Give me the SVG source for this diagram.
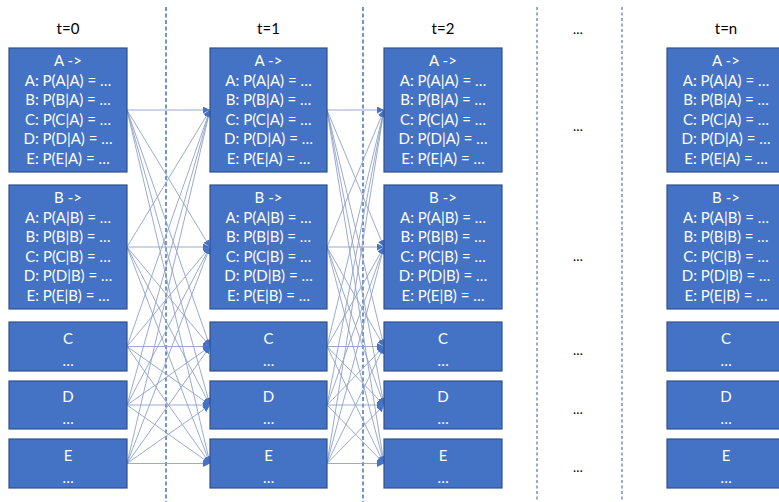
<svg xmlns="http://www.w3.org/2000/svg" width="779" height="502" viewBox="0 0 779 502">
  <defs>
    <style>
      .box { fill: #4472C4; stroke: #2F528F; stroke-width: 1.2; }
      .lbl { font-family: Lato, "Open Sans", sans-serif; font-size: 15px; fill: #FFFFFF; text-anchor: middle; }
      .hdr { font-family: Lato, "Open Sans", sans-serif; font-size: 15px; fill: #000000; text-anchor: middle; }
      .gap { font-family: Lato, "Open Sans", sans-serif; font-size: 13px; fill: #000000; text-anchor: middle; }
      .edge { stroke: #8FA2C6; stroke-width: 0.9; fill: none; marker-end: url(#tip); }
      .sep { stroke: #4472C4; stroke-width: 1.5; stroke-dasharray: 4 2.5; fill: none; }
      .sep2 { stroke: #7A92BF; stroke-width: 1.5; stroke-dasharray: 3 2.5; fill: none; }
    </style>
    <marker id="tip" viewBox="0 0 8 8" refX="8" refY="4" markerWidth="7" markerHeight="7" markerUnits="userSpaceOnUse" orient="auto">
      <path d="M0,0 L8,4 L0,8 z" fill="#4472C4"/>
    </marker>
  </defs>

  <!-- time step headers -->
  <g id="headers">
    <text class="hdr" x="68" y="34">t=0</text>
    <text class="hdr" x="268.5" y="34">t=1</text>
    <text class="hdr" x="443" y="34">t=2</text>
    <text class="gap" x="578" y="34">…</text>
    <text class="hdr" x="726" y="34">t=n</text>
  </g>

  <!-- dashed separators -->
  <g id="separators">
    <line class="sep" x1="166" y1="7" x2="166" y2="502"/>
    <line class="sep" x1="363" y1="7" x2="363" y2="502"/>
    <line class="sep2" x1="537" y1="7" x2="537" y2="502"/>
    <line class="sep2" x1="622" y1="7" x2="622" y2="502"/>
  </g>

  <!-- transitions between consecutive time steps -->
  <g id="connectors">
    <!-- t=0 to t=1 -->
    <line class="edge" x1="127" y1="110" x2="210" y2="110"/>
    <line class="edge" x1="127" y1="110" x2="210" y2="247"/>
    <line class="edge" x1="127" y1="110" x2="210" y2="346.5"/>
    <line class="edge" x1="127" y1="110" x2="210" y2="405"/>
    <line class="edge" x1="127" y1="110" x2="210" y2="463.5"/>
    <line class="edge" x1="127" y1="247" x2="210" y2="110"/>
    <line class="edge" x1="127" y1="247" x2="210" y2="247"/>
    <line class="edge" x1="127" y1="247" x2="210" y2="346.5"/>
    <line class="edge" x1="127" y1="247" x2="210" y2="405"/>
    <line class="edge" x1="127" y1="247" x2="210" y2="463.5"/>
    <line class="edge" x1="127" y1="346.5" x2="210" y2="110"/>
    <line class="edge" x1="127" y1="346.5" x2="210" y2="247"/>
    <line class="edge" x1="127" y1="346.5" x2="210" y2="346.5"/>
    <line class="edge" x1="127" y1="346.5" x2="210" y2="405"/>
    <line class="edge" x1="127" y1="346.5" x2="210" y2="463.5"/>
    <line class="edge" x1="127" y1="405" x2="210" y2="110"/>
    <line class="edge" x1="127" y1="405" x2="210" y2="247"/>
    <line class="edge" x1="127" y1="405" x2="210" y2="346.5"/>
    <line class="edge" x1="127" y1="405" x2="210" y2="405"/>
    <line class="edge" x1="127" y1="405" x2="210" y2="463.5"/>
    <line class="edge" x1="127" y1="463.5" x2="210" y2="110"/>
    <line class="edge" x1="127" y1="463.5" x2="210" y2="247"/>
    <line class="edge" x1="127" y1="463.5" x2="210" y2="346.5"/>
    <line class="edge" x1="127" y1="463.5" x2="210" y2="405"/>
    <line class="edge" x1="127" y1="463.5" x2="210" y2="463.5"/>
    <!-- t=1 to t=2 -->
    <line class="edge" x1="327" y1="110" x2="384" y2="110"/>
    <line class="edge" x1="327" y1="110" x2="384" y2="247"/>
    <line class="edge" x1="327" y1="110" x2="384" y2="346.5"/>
    <line class="edge" x1="327" y1="110" x2="384" y2="405"/>
    <line class="edge" x1="327" y1="110" x2="384" y2="463.5"/>
    <line class="edge" x1="327" y1="247" x2="384" y2="110"/>
    <line class="edge" x1="327" y1="247" x2="384" y2="247"/>
    <line class="edge" x1="327" y1="247" x2="384" y2="346.5"/>
    <line class="edge" x1="327" y1="247" x2="384" y2="405"/>
    <line class="edge" x1="327" y1="247" x2="384" y2="463.5"/>
    <line class="edge" x1="327" y1="346.5" x2="384" y2="110"/>
    <line class="edge" x1="327" y1="346.5" x2="384" y2="247"/>
    <line class="edge" x1="327" y1="346.5" x2="384" y2="346.5"/>
    <line class="edge" x1="327" y1="346.5" x2="384" y2="405"/>
    <line class="edge" x1="327" y1="346.5" x2="384" y2="463.5"/>
    <line class="edge" x1="327" y1="405" x2="384" y2="110"/>
    <line class="edge" x1="327" y1="405" x2="384" y2="247"/>
    <line class="edge" x1="327" y1="405" x2="384" y2="346.5"/>
    <line class="edge" x1="327" y1="405" x2="384" y2="405"/>
    <line class="edge" x1="327" y1="405" x2="384" y2="463.5"/>
    <line class="edge" x1="327" y1="463.5" x2="384" y2="110"/>
    <line class="edge" x1="327" y1="463.5" x2="384" y2="247"/>
    <line class="edge" x1="327" y1="463.5" x2="384" y2="346.5"/>
    <line class="edge" x1="327" y1="463.5" x2="384" y2="405"/>
    <line class="edge" x1="327" y1="463.5" x2="384" y2="463.5"/>
  </g>

  <!-- t=0 -->
  <g id="t0-A">
    <rect class="box" x="9" y="48" width="118" height="124"/>
    <text class="lbl" x="68" y="66">A -&gt;</text>
    <text class="lbl" x="68" y="85.5">A: P(A|A) = …</text>
    <text class="lbl" x="68" y="105">B: P(B|A) = …</text>
    <text class="lbl" x="68" y="124.5">C: P(C|A) = …</text>
    <text class="lbl" x="68" y="144">D: P(D|A) = …</text>
    <text class="lbl" x="68" y="163.5">E: P(E|A) = …</text>
  </g>
  <g id="t0-B">
    <rect class="box" x="9" y="185" width="118" height="124"/>
    <text class="lbl" x="68" y="203">B -&gt;</text>
    <text class="lbl" x="68" y="222.5">A: P(A|B) = …</text>
    <text class="lbl" x="68" y="242">B: P(B|B) = …</text>
    <text class="lbl" x="68" y="261.5">C: P(C|B) = …</text>
    <text class="lbl" x="68" y="281">D: P(D|B) = …</text>
    <text class="lbl" x="68" y="300.5">E: P(E|B) = …</text>
  </g>
  <g id="t0-C">
    <rect class="box" x="9" y="322" width="118" height="49"/>
    <text class="lbl" x="68" y="344">C</text>
    <text class="lbl" x="68" y="366">…</text>
  </g>
  <g id="t0-D">
    <rect class="box" x="9" y="381" width="118" height="48"/>
    <text class="lbl" x="68" y="402">D</text>
    <text class="lbl" x="68" y="424">…</text>
  </g>
  <g id="t0-E">
    <rect class="box" x="9" y="439" width="118" height="49"/>
    <text class="lbl" x="68" y="461">E</text>
    <text class="lbl" x="68" y="483">…</text>
  </g>

  <!-- t=1 -->
  <g id="t1-A">
    <rect class="box" x="210" y="48" width="117" height="124"/>
    <text class="lbl" x="268.5" y="66">A -&gt;</text>
    <text class="lbl" x="268.5" y="85.5">A: P(A|A) = …</text>
    <text class="lbl" x="268.5" y="105">B: P(B|A) = …</text>
    <text class="lbl" x="268.5" y="124.5">C: P(C|A) = …</text>
    <text class="lbl" x="268.5" y="144">D: P(D|A) = …</text>
    <text class="lbl" x="268.5" y="163.5">E: P(E|A) = …</text>
  </g>
  <g id="t1-B">
    <rect class="box" x="210" y="185" width="117" height="124"/>
    <text class="lbl" x="268.5" y="203">B -&gt;</text>
    <text class="lbl" x="268.5" y="222.5">A: P(A|B) = …</text>
    <text class="lbl" x="268.5" y="242">B: P(B|B) = …</text>
    <text class="lbl" x="268.5" y="261.5">C: P(C|B) = …</text>
    <text class="lbl" x="268.5" y="281">D: P(D|B) = …</text>
    <text class="lbl" x="268.5" y="300.5">E: P(E|B) = …</text>
  </g>
  <g id="t1-C">
    <rect class="box" x="210" y="322" width="117" height="49"/>
    <text class="lbl" x="268.5" y="344">C</text>
    <text class="lbl" x="268.5" y="366">…</text>
  </g>
  <g id="t1-D">
    <rect class="box" x="210" y="381" width="117" height="48"/>
    <text class="lbl" x="268.5" y="402">D</text>
    <text class="lbl" x="268.5" y="424">…</text>
  </g>
  <g id="t1-E">
    <rect class="box" x="210" y="439" width="117" height="49"/>
    <text class="lbl" x="268.5" y="461">E</text>
    <text class="lbl" x="268.5" y="483">…</text>
  </g>

  <!-- t=2 -->
  <g id="t2-A">
    <rect class="box" x="384" y="48" width="118" height="124"/>
    <text class="lbl" x="443" y="66">A -&gt;</text>
    <text class="lbl" x="443" y="85.5">A: P(A|A) = …</text>
    <text class="lbl" x="443" y="105">B: P(B|A) = …</text>
    <text class="lbl" x="443" y="124.5">C: P(C|A) = …</text>
    <text class="lbl" x="443" y="144">D: P(D|A) = …</text>
    <text class="lbl" x="443" y="163.5">E: P(E|A) = …</text>
  </g>
  <g id="t2-B">
    <rect class="box" x="384" y="185" width="118" height="124"/>
    <text class="lbl" x="443" y="203">B -&gt;</text>
    <text class="lbl" x="443" y="222.5">A: P(A|B) = …</text>
    <text class="lbl" x="443" y="242">B: P(B|B) = …</text>
    <text class="lbl" x="443" y="261.5">C: P(C|B) = …</text>
    <text class="lbl" x="443" y="281">D: P(D|B) = …</text>
    <text class="lbl" x="443" y="300.5">E: P(E|B) = …</text>
  </g>
  <g id="t2-C">
    <rect class="box" x="384" y="322" width="118" height="49"/>
    <text class="lbl" x="443" y="344">C</text>
    <text class="lbl" x="443" y="366">…</text>
  </g>
  <g id="t2-D">
    <rect class="box" x="384" y="381" width="118" height="48"/>
    <text class="lbl" x="443" y="402">D</text>
    <text class="lbl" x="443" y="424">…</text>
  </g>
  <g id="t2-E">
    <rect class="box" x="384" y="439" width="118" height="49"/>
    <text class="lbl" x="443" y="461">E</text>
    <text class="lbl" x="443" y="483">…</text>
  </g>

  <!-- elided time steps -->
  <g id="gap-marks">
    <text class="gap" x="578" y="131">…</text>
    <text class="gap" x="578" y="261">…</text>
    <text class="gap" x="578" y="355">…</text>
    <text class="gap" x="578" y="414">…</text>
    <text class="gap" x="578" y="472">…</text>
  </g>

  <!-- t=n -->
  <g id="tn-A">
    <rect class="box" x="667" y="48" width="118" height="124"/>
    <text class="lbl" x="726" y="66">A -&gt;</text>
    <text class="lbl" x="726" y="85.5">A: P(A|A) = …</text>
    <text class="lbl" x="726" y="105">B: P(B|A) = …</text>
    <text class="lbl" x="726" y="124.5">C: P(C|A) = …</text>
    <text class="lbl" x="726" y="144">D: P(D|A) = …</text>
    <text class="lbl" x="726" y="163.5">E: P(E|A) = …</text>
  </g>
  <g id="tn-B">
    <rect class="box" x="667" y="185" width="118" height="124"/>
    <text class="lbl" x="726" y="203">B -&gt;</text>
    <text class="lbl" x="726" y="222.5">A: P(A|B) = …</text>
    <text class="lbl" x="726" y="242">B: P(B|B) = …</text>
    <text class="lbl" x="726" y="261.5">C: P(C|B) = …</text>
    <text class="lbl" x="726" y="281">D: P(D|B) = …</text>
    <text class="lbl" x="726" y="300.5">E: P(E|B) = …</text>
  </g>
  <g id="tn-C">
    <rect class="box" x="667" y="322" width="118" height="49"/>
    <text class="lbl" x="726" y="344">C</text>
    <text class="lbl" x="726" y="366">…</text>
  </g>
  <g id="tn-D">
    <rect class="box" x="667" y="381" width="118" height="48"/>
    <text class="lbl" x="726" y="402">D</text>
    <text class="lbl" x="726" y="424">…</text>
  </g>
  <g id="tn-E">
    <rect class="box" x="667" y="439" width="118" height="49"/>
    <text class="lbl" x="726" y="461">E</text>
    <text class="lbl" x="726" y="483">…</text>
  </g>
</svg>
